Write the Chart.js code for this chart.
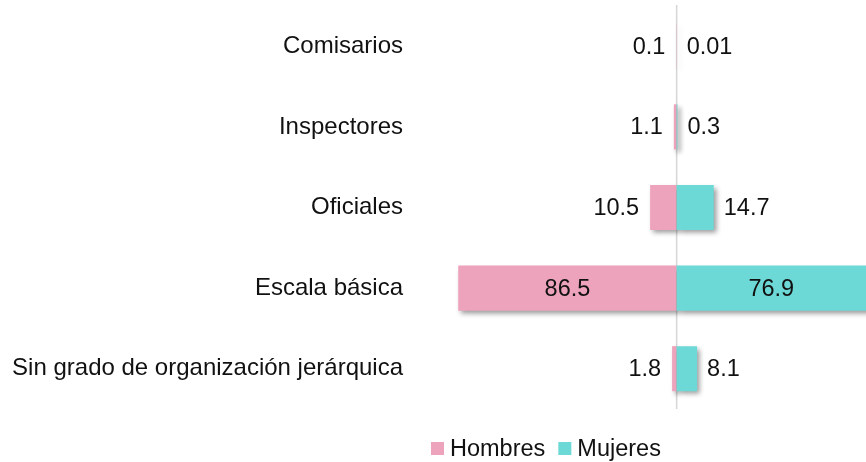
<!DOCTYPE html>
<html>
<head>
<meta charset="utf-8">
<script src="https://cdn.jsdelivr.net/npm/chart.js@4.4.1/dist/chart.umd.min.js"></script>
<style>
    html, body { margin: 0; padding: 0; background: #fff; }
    #wrap { width: 866px; height: 462px; }
</style>
</head>
<body>
<div id="wrap"><canvas id="rangosChart" width="866" height="462"></canvas></div>
<script>
// data (percent)
const categorias = ['Comisarios', 'Inspectores', 'Oficiales', 'Escala básica', 'Sin grado de organización jerárquica'];
const hombres = [0.1, 1.1, 10.5, 86.5, 1.8];
const mujeres = [0.01, 0.3, 14.7, 76.9, 8.1];

const colorHombres = '#EDA3BB';
const colorMujeres = '#6CD9D6';
const fontFamily = "Arial, 'Liberation Sans', sans-serif";

// drop shadow under the bars
const barShadow = {
    id: 'barShadow',
    beforeDatasetDraw(chart) {
        const ctx = chart.ctx;
        ctx.save();
        ctx.shadowColor = 'rgba(0, 0, 0, 0.4)';
        ctx.shadowBlur = 5;
        ctx.shadowOffsetX = 3;
        ctx.shadowOffsetY = 3;
    },
    afterDatasetDraw(chart) {
        chart.ctx.restore();
    }
};

// gray line at zero
const zeroLine = {
    id: 'zeroLine',
    beforeDatasetsDraw(chart) {
        const { ctx, chartArea, scales } = chart;
        const x0 = scales.x.getPixelForValue(0);
        ctx.save();
        ctx.strokeStyle = '#d6d6d6';
        ctx.lineWidth = 1.5;
        ctx.beginPath();
        ctx.moveTo(x0, chartArea.top - 1);
        ctx.lineTo(x0, chartArea.bottom);
        ctx.stroke();
        ctx.restore();
    }
};

// value labels: outside the bar end, inside the centre for the big ones
const valueLabels = {
    id: 'valueLabels',
    afterDatasetsDraw(chart) {
        const { ctx, chartArea } = chart;
        ctx.save();
        ctx.font = '23.5px ' + fontFamily;
        ctx.fillStyle = '#111';
        ctx.textBaseline = 'middle';
        chart.data.datasets.forEach((ds, di) => {
            const meta = chart.getDatasetMeta(di);
            meta.data.forEach((bar, i) => {
                const v = ds.data[i];
                const txt = String(Math.abs(v));
                const left = Math.max(Math.min(bar.x, bar.base), chartArea.left);
                const right = Math.min(Math.max(bar.x, bar.base), chartArea.right);
                if (Math.abs(v) > 50) {
                    ctx.textAlign = 'center';
                    ctx.fillText(txt, (left + right) / 2, bar.y + 1);
                } else if (v < 0) {
                    ctx.textAlign = 'right';
                    ctx.fillText(txt, left - 11, bar.y + 1);
                } else {
                    ctx.textAlign = 'left';
                    ctx.fillText(txt, right + 10, bar.y + 1);
                }
            });
        });
        ctx.restore();
    }
};

// legend with small square and tight gap
const bottomLegend = {
    id: 'bottomLegend',
    afterDraw(chart) {
        const ctx = chart.ctx;
        const box = 13, gap = 6, itemGap = 13;
        let x = 431;
        const y = 448.5;
        ctx.save();
        ctx.font = '23.5px ' + fontFamily;
        ctx.textBaseline = 'middle';
        ctx.textAlign = 'left';
        chart.data.datasets.forEach(ds => {
            ctx.fillStyle = ds.backgroundColor;
            ctx.fillRect(x, y - box / 2, box, box);
            x += box + gap;
            ctx.fillStyle = '#111';
            ctx.fillText(ds.label, x, y + 1);
            x += ctx.measureText(ds.label).width + itemGap;
        });
        ctx.restore();
    }
};

const ctx = document.getElementById('rangosChart').getContext('2d');
let myChart = new Chart(ctx, {
    type: 'bar',
    data: {
        labels: categorias,
        datasets: [{
            label: 'Hombres',
            data: hombres.map(v => -v),
            backgroundColor: colorHombres,
            borderWidth: 0,
            order: 2 // drawn first so the teal bar sits on top of its shadow
        }, {
            label: 'Mujeres',
            data: mujeres,
            backgroundColor: colorMujeres,
            borderWidth: 0,
            order: 1
        }]
    },
    options: {
        indexAxis: 'y',
        responsive: false,
        animation: false,
        layout: { padding: { top: 6, bottom: 53, left: 0, right: 0 } },
        datasets: {
            bar: { categoryPercentage: 1, barPercentage: 0.56 }
        },
        scales: {
            x: {
                display: false,
                stacked: true,
                min: -105.6,
                max: 75
            },
            y: {
                stacked: true,
                border: { display: false },
                grid: { display: false, drawTicks: false },
                ticks: {
                    autoSkip: false,
                    padding: 7,
                    color: '#111',
                    font: { family: fontFamily, size: 24 }
                },
                afterFit(scale) {
                    scale.width = 410;
                    scale.paddingTop = 0;
                    scale.paddingBottom = 0;
                }
            }
        },
        plugins: {
            legend: { display: false },
            tooltip: { enabled: false }
        }
    },
    plugins: [barShadow, zeroLine, valueLabels, bottomLegend]
});
</script>
</body>
</html>
